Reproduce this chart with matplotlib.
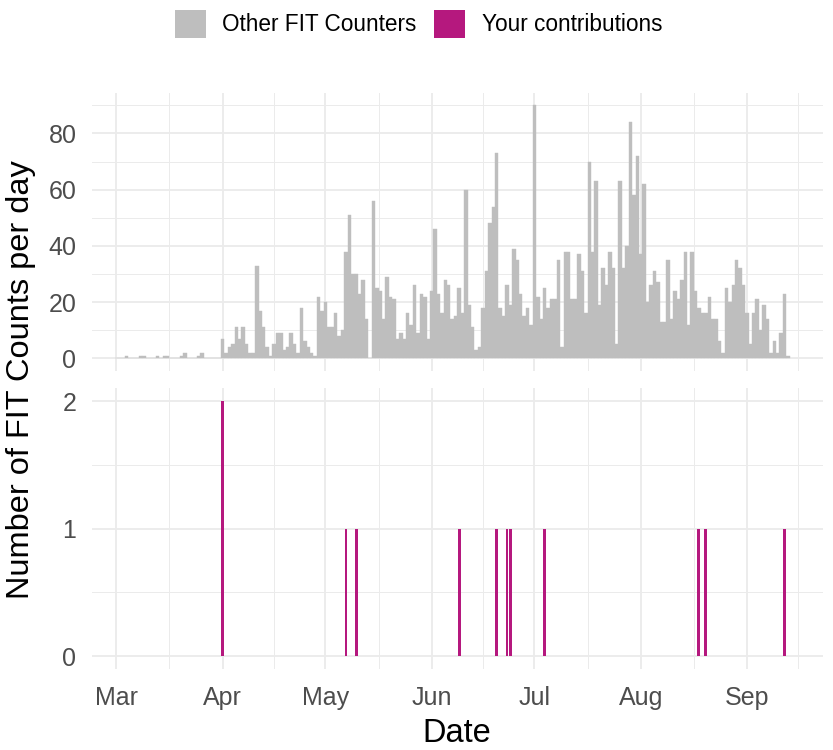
import numpy as np
import pandas as pd
import matplotlib
matplotlib.use("Agg")
import matplotlib.pyplot as plt
from matplotlib.patches import Patch

# ---------------- data ----------------
start_date = "2021-03-01"
# daily counts of other FIT counters, one value per day from Mar 1
other_counts = [
    0, 0, 0, 1, 0, 0, 0, 1, 1, 0, 0, 0, 1, 0, 1, 1, 0, 0, 0, 1,
    2, 0, 0, 0, 1, 2, 0, 0, 0, 0, 0, 7, 2, 4, 5, 11, 7, 11, 5, 2,
    2, 33, 17, 11, 4, 1, 5, 9, 9, 3, 4, 9, 5, 2, 18, 6, 4, 2, 1, 22,
    17, 20, 11, 11, 16, 8, 10, 38, 51, 30, 30, 23, 28, 14, 0, 56, 25, 24, 14, 29,
    22, 21, 7, 9, 7, 16, 12, 26, 9, 23, 22, 7, 24, 46, 23, 16, 28, 26, 14, 15,
    25, 16, 60, 19, 11, 3, 4, 18, 31, 48, 54, 73, 18, 15, 26, 19, 39, 35, 23, 15,
    18, 12, 90, 22, 14, 25, 18, 21, 21, 35, 4, 38, 38, 21, 21, 37, 31, 16, 70, 38,
    63, 19, 32, 26, 38, 32, 5, 63, 32, 40, 84, 58, 72, 37, 62, 20, 26, 31, 27, 13,
    13, 35, 14, 24, 21, 28, 38, 12, 38, 24, 18, 16, 16, 22, 14, 14, 6, 2, 25, 20,
    26, 35, 32, 26, 16, 5, 16, 21, 10, 19, 14, 2, 6, 2, 9, 23, 1,
]
# your contributions
contrib_dates = ["2021-04-01", "2021-05-07", "2021-05-10", "2021-06-09", "2021-06-20",
                 "2021-06-23", "2021-06-24", "2021-07-04", "2021-08-18", "2021-08-20",
                 "2021-09-12"]
contrib_counts = [2, 1, 1, 1, 1, 1, 1, 1, 1, 1, 1]

month_labels = ["Mar", "Apr", "May", "Jun", "Jul", "Aug", "Sep"]
top_yticks = [0, 20, 40, 60, 80]
bottom_yticks = [0, 1, 2]
legend_labels = ["Other FIT Counters", "Your contributions"]

# ---------------- style ----------------
GREY = "#BEBEBE"
MAGENTA = "#B5187E"
GRID = "#EBEBEB"
TICKC = "#4D4D4D"
FONT = "Liberation Sans"
plt.rcParams["font.family"] = [FONT, "DejaVu Sans"]

other_dates = pd.date_range(start_date, periods=len(other_counts), freq="D")
cdates = pd.to_datetime(contrib_dates)

W, H = 833, 750
fig = plt.figure(figsize=(W / 100, H / 100), dpi=100)

def frac_box(x0, y0, x1, y1):
    return [x0 / W, 1 - y1 / H, (x1 - x0) / W, (y1 - y0) / H]

ax1 = fig.add_axes(frac_box(91.7, 92.7, 823, 371))
ax2 = fig.add_axes(frac_box(91.7, 388.3, 823, 669), sharex=ax1)

ax1.bar(other_dates, other_counts, width=1.0, color=GREY, edgecolor=GREY,
        linewidth=0.3, zorder=3)
ax2.bar(cdates, contrib_counts, width=0.85, color=MAGENTA, linewidth=0, zorder=3)

# x range: data range (bars incl. width) expanded by 5%
all_lo = min(other_dates[np.nonzero(other_counts)[0][0]], cdates.min()) - pd.Timedelta(hours=12)
all_hi = max(other_dates[np.nonzero(other_counts)[0][-1]], cdates.max()) + pd.Timedelta(hours=12)
span = all_hi - all_lo
ax1.set_xlim(all_lo - 0.05 * span, all_hi + 0.05 * span)

ymax1 = max(other_counts)
ax1.set_ylim(-0.05 * ymax1, 1.05 * ymax1)
ymax2 = max(contrib_counts)
ax2.set_ylim(-0.05 * ymax2, 1.05 * ymax2)

major_dates = pd.date_range("2021-03-01", "2021-10-01", freq="MS")
minor_dates = [major_dates[i] + (major_dates[i + 1] - major_dates[i]) / 2
               for i in range(len(major_dates) - 1)]

for ax in (ax1, ax2):
    ax.set_xticks(major_dates[:-1])
    ax.set_xticks(minor_dates, minor=True)
    for s in ax.spines.values():
        s.set_visible(False)
    ax.grid(True, which="major", color=GRID, linewidth=1.3, zorder=0)
    ax.grid(True, which="minor", color=GRID, linewidth=0.7, zorder=0)
    ax.tick_params(which="both", length=0, labelsize=18, labelcolor=TICKC)
    ax.tick_params(axis="y", pad=11)
    ax.tick_params(axis="x", pad=12)
    ax.set_axisbelow(True)

ax1.set_yticks(top_yticks)
ax1.set_yticks([10, 30, 50, 70, 90], minor=True)
ax2.set_yticks(bottom_yticks)
ax2.set_yticks([0.5, 1.5], minor=True)
ax1.tick_params(axis="x", labelbottom=False)
ax2.set_xticklabels(month_labels)

fig.text(21 / W, 1 - 380 / H, "Number of FIT Counts per day", rotation=90,
         ha="center", va="center", fontsize=23.4, color="black")
fig.text(457 / W, 1 - 733 / H, "Date", ha="center", va="center",
         fontsize=23.5, color="black")

handles = [Patch(facecolor=GREY, edgecolor="none"), Patch(facecolor=MAGENTA, edgecolor="none")]
fig.legend(handles, legend_labels, loc="center", bbox_to_anchor=(418.5 / W, 1 - 23.7 / H),
           ncol=2, frameon=False, fontsize=16.3, handlelength=1.37, handleheight=1.5,
           handletextpad=0.74, columnspacing=0.77, borderaxespad=0, borderpad=0)

fig.savefig("out.png", dpi=100, facecolor="white")
